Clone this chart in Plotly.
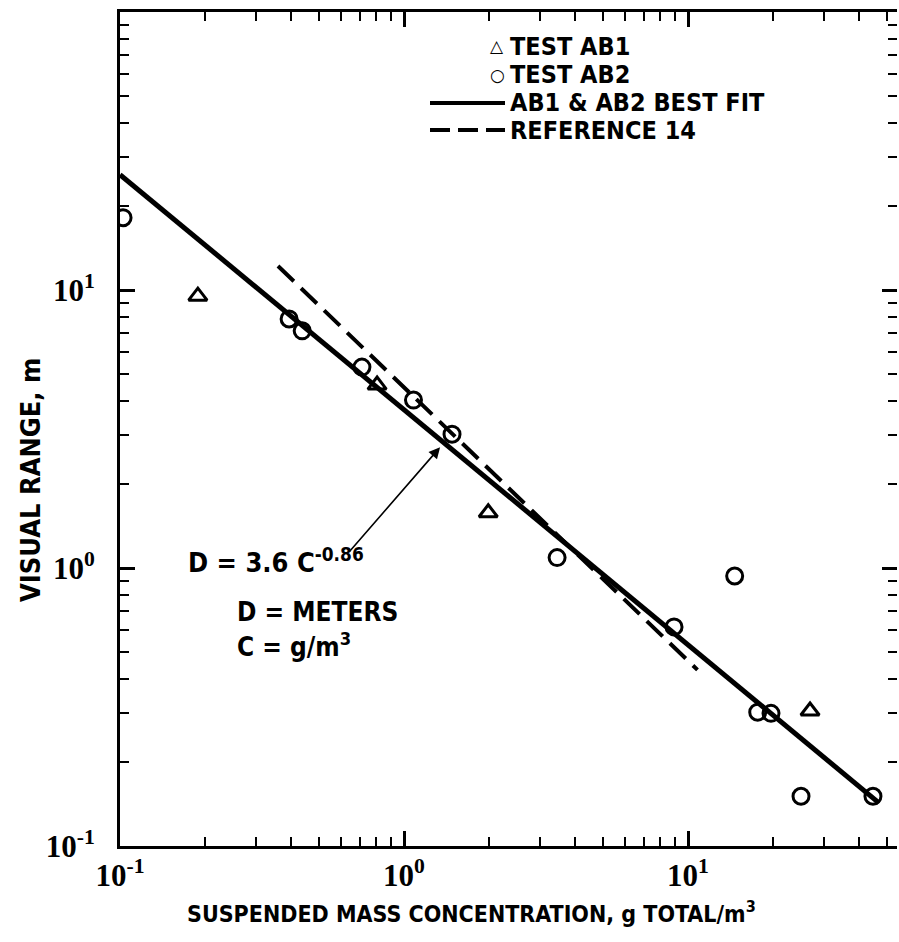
import numpy as np
import plotly.graph_objects as go

# ---------------- data ----------------
ab1_c = [0.188, 0.804, 1.98, 26.9]
ab1_d = [9.5, 4.55, 1.58, 0.306]

ab2_c = [0.1025, 0.394, 0.438, 0.711, 1.08, 1.476, 3.46, 8.93, 14.6, 17.6, 19.6, 25.0, 44.8]
ab2_d = [18.2, 7.87, 7.13, 5.28, 4.02, 3.03, 1.09, 0.614, 0.936, 0.303, 0.30, 0.151, 0.151]

fit_c = [0.1, 47.0]
fit_d = [26.0, 0.143]

ref14_c = [0.36, 10.8]
ref14_d = [12.2, 0.43]

x_tickvals = [0.1, 1, 10]
x_ticktext = ["10<sup>-1</sup>", "10<sup>0</sup>", "10<sup>1</sup>"]
y_tickvals = [0.1, 1, 10, 100]
y_ticktext = ["10<sup>-1</sup>", "10<sup>0</sup>", "10<sup>1</sup>", ""]

x_minor = [0.2, 0.3, 0.4, 0.5, 0.6, 0.7, 0.8, 0.9, 2, 3, 4, 5, 6, 7, 8, 9, 20, 30, 40, 50]
y_minor = [0.2, 0.3, 0.4, 0.5, 0.6, 0.7, 0.8, 0.9, 2, 3, 4, 5, 6, 7, 8, 9,
           20, 30, 40, 50, 60, 70, 80, 90]

legend_labels = ["TEST AB1", "TEST AB2", "AB1 & AB2 BEST FIT", "REFERENCE 14"]

# ---------------- figure ----------------
W, H = 899, 942
L, R, T, B = 120, 2, 12, 96
pw, ph = W - L - R, H - T - B
x_range = [-1, -1 + pw / 284.0]
y_range = [-1, 2]

LBL = "DejaVu Sans Condensed, Liberation Sans Narrow, sans-serif"
SERIF = "Liberation Serif, Times New Roman, serif"

fig = go.Figure()

fig.add_trace(go.Scatter(x=fit_c, y=fit_d, mode="lines",
                         line=dict(color="black", width=5), showlegend=False))
fig.add_trace(go.Scatter(x=ref14_c, y=ref14_d, mode="lines",
                         line=dict(color="black", width=4, dash="22px,10px"),
                         showlegend=False))
fig.add_trace(go.Scatter(x=ab2_c, y=ab2_d, mode="markers",
                         marker=dict(symbol="circle-open", size=16, color="black",
                                     line=dict(width=3, color="black")),
                         showlegend=False))
fig.add_trace(go.Scatter(x=ab1_c, y=ab1_d, mode="markers",
                         marker=dict(symbol="triangle-up-open", size=16, color="black",
                                     line=dict(width=3, color="black")),
                         showlegend=False))
# invisible trace for the right-hand tick axis
fig.add_trace(go.Scatter(x=[fit_c[0]], y=[fit_d[0]], yaxis="y2", mode="markers",
                         marker=dict(opacity=0), hoverinfo="skip", showlegend=False))

axis_common = dict(type="log", ticks="inside", ticklen=15, tickwidth=3,
                   tickcolor="black", showgrid=False, zeroline=False,
                   linecolor="black", linewidth=3,
                   tickfont=dict(family=SERIF, size=31, color="black", weight="bold"))

fig.update_layout(
    width=W, height=H,
    margin=dict(l=L, r=R, t=T, b=B),
    paper_bgcolor="white", plot_bgcolor="white",
    xaxis=dict(range=x_range, tickvals=x_tickvals, ticktext=x_ticktext,
               showline=True, mirror="ticks", ticklabelstandoff=0,
               minor=dict(tickvals=x_minor, ticks="inside", ticklen=9,
                          tickwidth=2, tickcolor="black"),
               **axis_common),
    yaxis=dict(range=y_range, tickvals=y_tickvals, ticktext=y_ticktext,
               showline=True, mirror=False, ticklabelstandoff=16,
               minor=dict(tickvals=y_minor, ticks="inside", ticklen=9,
                          tickwidth=2, tickcolor="black"),
               **axis_common),
    yaxis2=dict(range=y_range, overlaying="y", side="right", type="log",
                tickvals=y_tickvals, showticklabels=False, showline=False,
                ticks="inside", ticklen=15, tickwidth=3, tickcolor="black",
                showgrid=False, zeroline=False,
                minor=dict(tickvals=y_minor, ticks="inside", ticklen=9,
                           tickwidth=2, tickcolor="black")),
    showlegend=False,
)


def px(xp):
    return (xp - L) / pw


def py(yp):
    return (H - B - yp) / ph


def txt(text, xp, yp, size=26, xanchor="left", **kw):
    return dict(text=text, x=px(xp), y=py(yp), xref="paper", yref="paper",
                xanchor=xanchor, yanchor="middle", showarrow=False,
                font=dict(family=kw.pop("family", LBL), size=size, color="black",
                          weight="bold"), **kw)


ann = []
# axis titles
ann.append(txt("SUSPENDED MASS CONCENTRATION, g TOTAL/m<sup>3</sup>", 471, 912,
               size=23, xanchor="center"))
ann.append(txt("VISUAL RANGE, m", 30, 480, size=27, xanchor="center", textangle=-90))

# equation text
ann.append(txt("D = 3.6 C<sup>-0.86</sup>", 186, 560, size=27))
ann.append(txt("D = METERS", 235, 612, size=26))
ann.append(txt("C = g/m<sup>3</sup>", 235, 645, size=26))
# arrow pointing at the best-fit line
ann.append(dict(text="", x=np.log10(1.34), y=np.log10(2.72), xref="x", yref="y",
                ax=np.log10(0.635), ay=np.log10(1.13), axref="x", ayref="y",
                showarrow=True, arrowhead=2, arrowsize=1.4, arrowwidth=1.6,
                arrowcolor="black"))

# legend (drawn manually)
leg_y = [47, 75, 103, 130]
for lab, yy in zip(legend_labels, leg_y):
    ann.append(txt(lab, 508, yy, size=25))
ann.append(txt("△", 497, 46, size=17, xanchor="center", family="DejaVu Sans"))
ann.append(txt("○", 497, 75, size=17, xanchor="center", family="DejaVu Sans"))
fig.update_layout(annotations=ann)

shapes = [
    dict(type="line", xref="paper", yref="paper", x0=px(430), x1=px(505),
         y0=py(103), y1=py(103), line=dict(color="black", width=4)),
    dict(type="line", xref="paper", yref="paper", x0=px(430), x1=px(505),
         y0=py(130), y1=py(130), line=dict(color="black", width=4, dash="20px,8px")),
]
fig.update_layout(shapes=shapes)

fig.write_html("out.html")
